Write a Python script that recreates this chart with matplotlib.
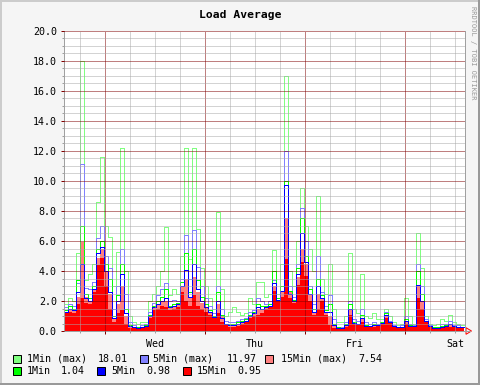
import numpy as np
import matplotlib
matplotlib.use('Agg')
import matplotlib.pyplot as plt
from matplotlib.patches import Rectangle, Polygon
from matplotlib.lines import Line2D

# load readings, one value per ~1h bin (100 bins over 4 days)
load15 = [1.2, 1.3, 1.2, 1.8, 2.2, 1.9, 1.8, 2.6, 4.4, 4.9,
          3.0, 1.5, 0.6, 1.2, 1.4, 0.5, 0.2, 0.2, 0.15, 0.2,
          0.3, 0.9, 1.4, 1.5, 1.7, 1.6, 1.4, 1.5, 1.6, 2.6,
          2.0, 1.7, 2.4, 1.7, 1.5, 1.3, 1.1, 0.85, 1.2, 0.6,
          0.4, 0.3, 0.3, 0.35, 0.5, 0.6, 0.85, 1.0, 1.1, 1.2,
          1.5, 1.6, 2.7, 2.0, 2.3, 4.8, 2.2, 1.9, 3.1, 4.6,
          3.7, 2.0, 1.1, 1.5, 2.0, 1.1, 0.4, 0.2, 0.2, 0.15,
          0.3, 1.1, 0.5, 0.4, 0.6, 0.3, 0.3, 0.3, 0.35, 0.5,
          0.85, 0.6, 0.3, 0.25, 0.25, 0.5, 0.3, 0.3, 2.2, 1.5,
          0.6, 0.3, 0.2, 0.2, 0.25, 0.3, 0.3, 0.3, 0.25, 0.2]
load15_max = [1.3, 1.4, 1.4, 2.3, 5.9, 2.3, 2.0, 2.8, 4.9, 5.5,
              4.0, 2.5, 0.9, 1.8, 3.0, 1.0, 0.4, 0.3, 0.2, 0.3,
              0.4, 1.0, 1.6, 1.8, 2.0, 2.0, 1.6, 1.7, 1.8, 3.0,
              3.5, 2.2, 3.6, 2.6, 1.9, 1.6, 1.3, 1.0, 1.8, 1.0,
              0.5, 0.4, 0.4, 0.5, 0.6, 0.7, 1.0, 1.2, 1.5, 1.5,
              1.6, 1.7, 3.0, 2.1, 2.6, 7.54, 2.6, 2.0, 3.6, 5.5,
              4.5, 2.4, 1.3, 2.5, 2.2, 1.3, 1.0, 0.4, 0.25, 0.2,
              0.4, 1.4, 0.6, 0.5, 0.8, 0.4, 0.35, 0.4, 0.4, 0.55,
              1.0, 0.7, 0.35, 0.3, 0.3, 0.7, 0.4, 0.35, 3.0, 2.0,
              0.7, 0.35, 0.25, 0.25, 0.3, 0.35, 0.4, 0.35, 0.3, 0.25]
load5 = [1.3, 1.5, 1.4, 2.6, 4.5, 2.2, 2.0, 2.8, 5.2, 5.6,
         4.0, 2.6, 0.9, 2.0, 3.8, 1.2, 0.35, 0.25, 0.2, 0.25,
         0.35, 1.0, 1.6, 1.8, 2.0, 2.2, 1.6, 1.7, 1.8, 3.0,
         4.1, 2.3, 4.5, 2.8, 2.0, 1.6, 1.3, 0.95, 2.0, 0.9,
         0.45, 0.4, 0.4, 0.5, 0.6, 0.7, 1.0, 1.2, 1.6, 1.5,
         1.6, 1.7, 3.2, 2.1, 2.7, 9.7, 2.5, 2.0, 3.8, 6.5,
         4.6, 2.5, 1.3, 3.0, 2.2, 1.3, 1.3, 0.4, 0.22, 0.18,
         0.4, 1.5, 0.55, 0.45, 0.9, 0.35, 0.32, 0.4, 0.38, 0.55,
         1.1, 0.6, 0.32, 0.28, 0.28, 0.7, 0.35, 0.32, 3.1, 2.0,
         0.65, 0.32, 0.22, 0.22, 0.3, 0.35, 0.45, 0.32, 0.28, 0.25]
load5_max = [1.6, 1.8, 1.7, 3.2, 11.1, 2.9, 2.8, 3.3, 6.2, 7.0,
             5.0, 4.2, 1.5, 3.0, 5.5, 2.5, 0.6, 0.4, 0.3, 0.4,
             0.5, 1.3, 1.9, 2.4, 2.8, 3.2, 2.0, 2.1, 2.0, 3.5,
             6.4, 3.5, 6.7, 4.3, 3.0, 2.2, 1.7, 1.2, 3.0, 1.5,
             0.7, 0.6, 0.6, 0.7, 0.8, 0.9, 1.3, 1.4, 2.2, 2.0,
             1.8, 2.0, 3.4, 2.2, 3.0, 11.97, 3.0, 2.3, 4.5, 8.2,
             6.0, 3.0, 1.8, 5.0, 2.6, 1.7, 2.4, 0.8, 0.3, 0.3,
             0.6, 2.0, 0.8, 0.7, 1.5, 0.6, 0.5, 0.6, 0.5, 0.6,
             1.3, 0.7, 0.4, 0.3, 0.4, 1.0, 0.5, 0.4, 4.5, 3.0,
             0.8, 0.4, 0.3, 0.3, 0.5, 0.5, 0.7, 0.4, 0.4, 0.3]
load1 = [1.4, 1.7, 1.5, 3.4, 7.0, 2.5, 2.2, 3.0, 5.5, 6.0,
         4.5, 3.5, 1.0, 2.4, 4.5, 1.5, 0.4, 0.3, 0.25, 0.3,
         0.4, 1.1, 1.7, 2.0, 2.3, 2.8, 1.7, 1.8, 1.9, 3.3,
         5.2, 2.6, 5.5, 3.4, 2.3, 1.8, 1.4, 1.0, 2.6, 1.1,
         0.5, 0.5, 0.5, 0.6, 0.7, 0.8, 1.1, 1.3, 1.8, 1.7,
         1.7, 1.8, 4.0, 2.2, 3.0, 10.0, 2.7, 2.1, 4.2, 7.5,
         5.0, 2.8, 1.5, 3.5, 2.4, 1.4, 1.8, 0.5, 0.25, 0.2,
         0.5, 1.8, 0.6, 0.5, 1.1, 0.4, 0.35, 0.5, 0.4, 0.6,
         1.2, 0.6, 0.35, 0.3, 0.3, 0.8, 0.4, 0.35, 4.0, 2.5,
         0.7, 0.35, 0.25, 0.25, 0.35, 0.4, 0.5, 0.35, 0.3, 0.3]
load1_max = [1.8, 2.2, 2.0, 5.2, 18.0, 3.4, 3.8, 4.5, 8.6, 11.6,
             7.0, 6.3, 3.0, 5.3, 12.2, 4.0, 1.0, 0.6, 0.5, 0.6,
             0.6, 2.0, 2.5, 3.0, 4.0, 6.9, 2.4, 2.8, 2.5, 5.0,
             12.2, 4.8, 12.2, 6.8, 4.2, 3.0, 2.2, 1.5, 7.9, 2.8,
             1.0, 1.3, 1.6, 1.3, 1.1, 1.2, 2.2, 1.8, 3.3, 3.3,
             2.3, 2.5, 5.4, 2.5, 4.5, 17.0, 4.0, 3.0, 6.0, 9.5,
             7.0, 5.5, 4.0, 9.0, 3.5, 2.5, 4.5, 1.5, 0.6, 0.6,
             1.0, 5.2, 1.5, 1.2, 3.8, 1.0, 0.9, 1.2, 0.8, 0.8,
             1.5, 1.0, 0.6, 0.4, 0.5, 2.2, 1.0, 0.5, 6.5, 4.2,
             1.0, 0.5, 0.4, 0.5, 0.8, 0.7, 1.1, 0.6, 0.5, 0.4]

days = ['Wed', 'Thu', 'Fri', 'Sat']
legend_rows = [
    [('1Min (max)', '18.01', '#80FF80'), ('5Min (max)', '11.97', '#8080FF'), ('15Min (max)', '7.54', '#FF8080')],
    [('1Min', '1.04', '#00FF00'), ('5Min', '0.98', '#0000FF'), ('15Min', '0.95', '#FF0000')],
]

W, H = 480, 385
mono = 'DejaVu Sans Mono'
px = 0.72  # one pixel in points at 100 dpi

fig = plt.figure(figsize=(W / 100, H / 100), dpi=100, facecolor='#F5F5F5')
ax = fig.add_axes([64 / W, (H - 331) / H, 401 / W, 300 / H])
ax.set_facecolor('white')

edges = np.linspace(0, 4, len(load15) + 1)
ax.stairs(load15_max, edges, fill=True, color='#FF8080', zorder=1)
ax.stairs(load15, edges, fill=True, color='#FF0000', zorder=1.1)
for vals, col, z in [(load1_max, '#80FF80', 1.5), (load5_max, '#8080FF', 1.6),
                     (load1, '#00FF00', 1.7), (load5, '#0000FF', 1.8)]:
    ax.stairs(vals, edges, baseline=None, color=col, lw=px, zorder=z, antialiased=False)

ax.set_xlim(0, 4.01)
ax.set_ylim(0, 20)

# grid over data, like rrdtool
ax.set_axisbelow(False)
ax.set_yticks(np.arange(0, 20.1, 2))
ax.set_yticks(np.arange(0, 20.1, 0.5), minor=True)
ax.set_yticklabels([f'{v:.1f}' for v in np.arange(0, 20.1, 2)])
major_x = [0.41 + k for k in range(4)]
minor_x = [0.16 + 0.25 * k for k in range(16)]
ax.set_xticks(major_x)
ax.set_xticklabels([''] * 4)
ax.set_xticks(minor_x, minor=True)
ax.set_xticklabels([days[(i - 3) // 4] if (i - 3) % 4 == 0 else '' for i in range(16)], minor=True)

dots = (0, (1, 1))
ax.grid(which='minor', color='#A8A8A8', lw=px, ls=dots)
ax.grid(which='major', color='#800000', lw=px, ls=dots)
ax.tick_params(which='major', length=3 * px, width=px, color='#800000', pad=3,
               labelsize=7.2, labelfontfamily=mono)
ax.tick_params(which='minor', length=2 * px, width=px, color='#A0A0A0', pad=4,
               labelsize=7.2, labelfontfamily=mono)
for s in ['left', 'right', 'bottom']:
    ax.spines[s].set_color('#A0A0A0')
    ax.spines[s].set_linewidth(px)
ax.spines['top'].set_visible(False)

# axis arrow
ax.add_line(Line2D([4.0, 4.06], [0, 0], color='#A0A0A0', lw=px, clip_on=False))
ax.add_patch(Polygon([[4.02, -0.22], [4.075, 0], [4.02, 0.22]], closed=True, fill=False,
                     edgecolor='#FF0000', lw=px, clip_on=False))

fig.text(240 / W, 1 - 15 / H, 'Load Average', ha='center', va='center',
         fontsize=8.2, fontweight='bold', family=mono)
fig.text(473 / W, 1 - 6 / H, 'RRDTOOL / TOBI OETIKER', ha='center', va='top',
         rotation=270, fontsize=5.0, family=mono, color='#999999')

# legend
box_x = [[12.5, 139.7, 265.0], [12.5, 97.3, 182.7]]
lab_x = [[26.7, 153.3, 280.7], [26.7, 111.7, 196.7]]
val_x = [[97.3, 226.7, 358.3], [61.0, 146.7, 237.3]]
row_y = [358.5, 371.2]
for r, row in enumerate(legend_rows):
    for i, (lab, val, col) in enumerate(row):
        fig.patches.append(Rectangle((box_x[r][i] / W, 1 - (row_y[r] + 4) / H), 8 / W, 8 / H,
                                     transform=fig.transFigure, facecolor=col,
                                     edgecolor='black', lw=px))
        fig.text(lab_x[r][i] / W, 1 - row_y[r] / H, lab, ha='left', va='center',
                 fontsize=7.2, family=mono)
        fig.text(val_x[r][i] / W, 1 - row_y[r] / H, val, ha='left', va='center',
                 fontsize=7.2, family=mono)

# canvas border
for xs, ys, c in [([0, 1], [1 - 1 / H] * 2, '#CCCCCC'), ([1 / W] * 2, [0, 1], '#CCCCCC'),
                  ([0, 1], [1 / H] * 2, '#999999'), ([1 - 1 / W] * 2, [0, 1], '#999999')]:
    fig.add_artist(Line2D(xs, ys, transform=fig.transFigure, color=c, lw=2 * px))

fig.savefig('out.png', dpi=100, facecolor=fig.get_facecolor())
